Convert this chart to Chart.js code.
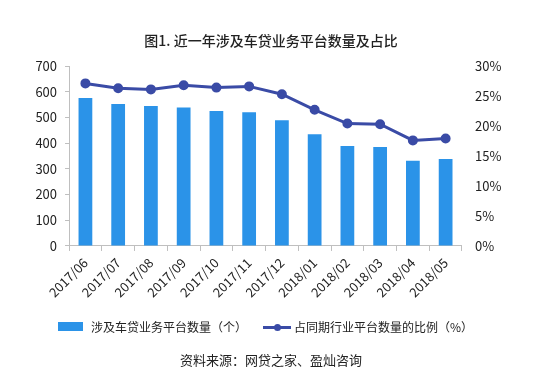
<!DOCTYPE html>
<html><head><meta charset="utf-8">
<script src="https://cdn.jsdelivr.net/npm/chart.js@4/dist/chart.umd.min.js"></script>
<style>
html,body{margin:0;padding:0;background:#fff;}
#wrap{position:relative;width:542px;height:377px;font-family:"Noto Sans CJK SC","Noto Sans",sans-serif;color:#222;}
#title{position:absolute;left:0;width:542px;top:30px;text-align:center;font-size:14px;font-weight:500;}
#src{position:absolute;left:0;width:542px;top:350px;text-align:center;font-size:13px;}
#legend{position:absolute;top:318px;left:58px;font-size:12px;display:flex;align-items:center;white-space:nowrap;}
.box{display:inline-block;width:25px;height:9px;background:#2B93E8;margin-right:8px;}
.ln{display:inline-block;position:relative;width:28px;height:10px;margin-right:3px;}
.ln:before{content:"";position:absolute;left:0;right:0;top:4px;height:3px;background:#3A4BA6;}
.ln:after{content:"";position:absolute;left:11px;top:2px;width:7px;height:7px;border-radius:50%;background:#3A4BA6;}
canvas{position:absolute;left:0;top:0;}
</style></head><body>
<div id="wrap">
<canvas id="c" width="542" height="377"></canvas>
<div id="title">图1. 近一年涉及车贷业务平台数量及占比</div>
<div id="legend"><span class="box"></span><span>涉及车贷业务平台数量（个）</span><span style="width:16px;display:inline-block"></span><span class="ln"></span><span>占同期行业平台数量的比例（%）</span></div>
<div id="src">资料来源：网贷之家、盈灿咨询</div>
</div>
<script>
const categories = ["2017/06","2017/07","2017/08","2017/09","2017/10","2017/11","2017/12","2018/01","2018/02","2018/03","2018/04","2018/05"];
const platformCount = [576, 552, 544, 539, 525, 520, 489, 435, 389, 385, 331, 338];
const shareOfIndustry = [27.1, 26.3, 26.1, 26.8, 26.4, 26.6, 25.3, 22.7, 20.4, 20.3, 17.6, 17.9];
const leftTicks = [0,100,200,300,400,500,600,700];
const rightTicks = [0,5,10,15,20,25,30];

const font = {family:'"Noto Sans CJK SC","Noto Sans",sans-serif', size:13};
new Chart(document.getElementById('c'), {
  data: {
    labels: categories,
    datasets: [
      {type:'line', label:'占同期行业平台数量的比例（%）', data: shareOfIndustry, yAxisID:'y1',
       borderColor:'#3A4BA6', backgroundColor:'#3A4BA6', borderWidth:3, pointRadius:3.5, pointHoverRadius:3.5, tension:0, order:0},
      {type:'bar', label:'涉及车贷业务平台数量（个）', data: platformCount, yAxisID:'y',
       backgroundColor:'#2B93E8', barPercentage:0.42, categoryPercentage:1, order:1}
    ]
  },
  options: {
    responsive:false, animation:false,
    layout:{padding:{top:66, left:27.4, right:27.6, bottom:72.8}},
    plugins:{legend:{display:false}, tooltip:{enabled:false}},
    scales:{
      x:{grid:{display:true, drawOnChartArea:false, offset:true, tickLength:5, color:'#BFBFBF'},
         border:{color:'#BFBFBF'},
         ticks:{font, color:'#222', maxRotation:45, minRotation:45, padding:4, autoSkip:false}},
      y:{position:'left', min:0, max:700, afterBuildTicks:a=>{a.ticks=leftTicks.map(v=>({value:v}));},
         grid:{display:true, drawOnChartArea:false, tickLength:4, color:'#BFBFBF'},
         border:{color:'#BFBFBF'},
         ticks:{font, color:'#222', padding:8}},
      y1:{position:'right', min:0, max:30, afterBuildTicks:a=>{a.ticks=rightTicks.map(v=>({value:v}));},
         grid:{display:false, drawTicks:false}, border:{display:false},
         ticks:{font, color:'#222', padding:13, callback:v=>v+'%'}}
    }
  }
});
</script>
</body></html>
